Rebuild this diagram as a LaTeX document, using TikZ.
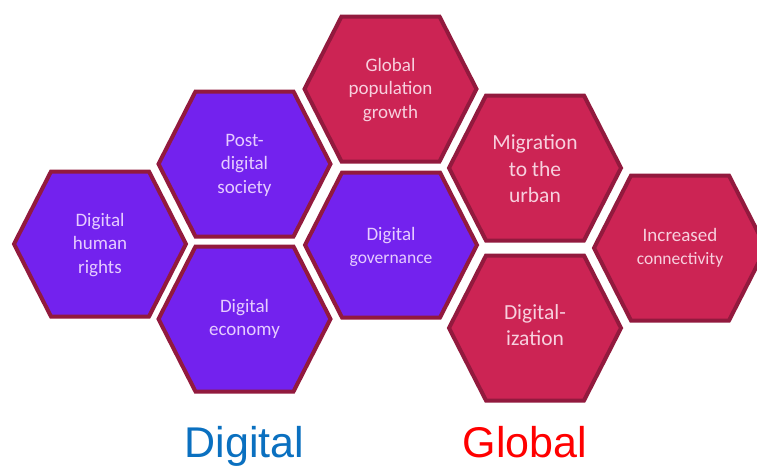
\documentclass[tikz,border=0pt]{standalone}
\usepackage{fontspec}
\setmainfont{Carlito}
\newfontfamily\labelfont{Liberation Sans}
\definecolor{hexpurple}{HTML}{7322EE}
\definecolor{hexred}{HTML}{CC2454}
\definecolor{hexedge}{HTML}{921A3E}
\definecolor{txtpurple}{HTML}{E6CCFF}
\definecolor{txtred}{HTML}{F7D0DE}
\definecolor{digiblue}{HTML}{0A70C0}
\definecolor{globred}{HTML}{FF0000}
\tikzset{
  hexbase/.style={draw=hexedge, line width=4pt, line join=miter},
  hexdig/.style={hexbase, fill=hexpurple},
  hexglob/.style={hexbase, fill=hexred},
  hextext/.style={align=center, inner sep=0pt, font=\fontsize{19}{23.5}\selectfont},
  digtext/.style={hextext, text=txtpurple},
  globtext/.style={hextext, text=txtred},
  bigline/.style={font=\fontsize{21.5}{26.5}\selectfont},
  grouplabel/.style={font=\labelfont\fontsize{43}{50}\selectfont, anchor=base, inner sep=0pt}
}
% flat-topped hexagon around a named centre coordinate
\newcommand\hexcell[2]{%
  \draw[#2] ([shift={(-86,0)}]#1) -- ([shift={(-49,-72.5)}]#1) -- ([shift={(49,-72.5)}]#1)
    -- ([shift={(86,0)}]#1) -- ([shift={(49,72.5)}]#1) -- ([shift={(-49,72.5)}]#1) -- cycle;}
\begin{document}
\begin{tikzpicture}[x=1pt,y=-1pt]
  \useasboundingbox (0,0) rectangle (757,466);
  \clip (0,0) rectangle (757,466);
  \fill[white] (0,0) rectangle (757,466);

  % cell centres
  \coordinate (c1) at (100,244);
  \coordinate (c2) at (244.5,164);
  \coordinate (c3) at (244.5,319);
  \coordinate (c4) at (390.5,89);
  \coordinate (c5) at (391,245);
  \coordinate (c6) at (535,168);
  \coordinate (c7) at (535,328);
  \coordinate (c8) at (680,248);

  \hexcell{c1}{hexdig}
  \hexcell{c2}{hexdig}
  \hexcell{c3}{hexdig}
  \hexcell{c4}{hexglob}
  \hexcell{c5}{hexdig}
  \hexcell{c6}{hexglob}
  \hexcell{c7}{hexglob}
  \hexcell{c8}{hexglob}

  \node[digtext] (rights) at ([yshift=-1]c1) {Digital\\human\\rights};
  \node[digtext] (society) at ([yshift=-1]c2) {Post-\\digital\\society};
  \node[digtext] (economy) at ([yshift=0]c3) {Digital\\economy};
  \node[globtext] (population) at ([yshift=-1]c4) {Global\\population\\growth};
  \node[digtext] (governance) at ([yshift=-2]c5) {Digital\\{\fontsize{17.5}{20}\selectfont governance}};
  \node[globtext, bigline] (migration) at ([yshift=-1]c6) {Migration\\to the\\urban};
  \node[globtext, bigline] (digitalization) at ([yshift=3]c7) {Digital-\\ization};
  \node[globtext] (connectivity) at ([yshift=0]c8) {Increased\\{\fontsize{17.5}{21}\selectfont connectivity}};

  \node[grouplabel, text=digiblue] (digital) at (244.5,457) {Digital};
  \node[grouplabel, text=globred] (global) at (525,457) {Global};
\end{tikzpicture}
\end{document}
